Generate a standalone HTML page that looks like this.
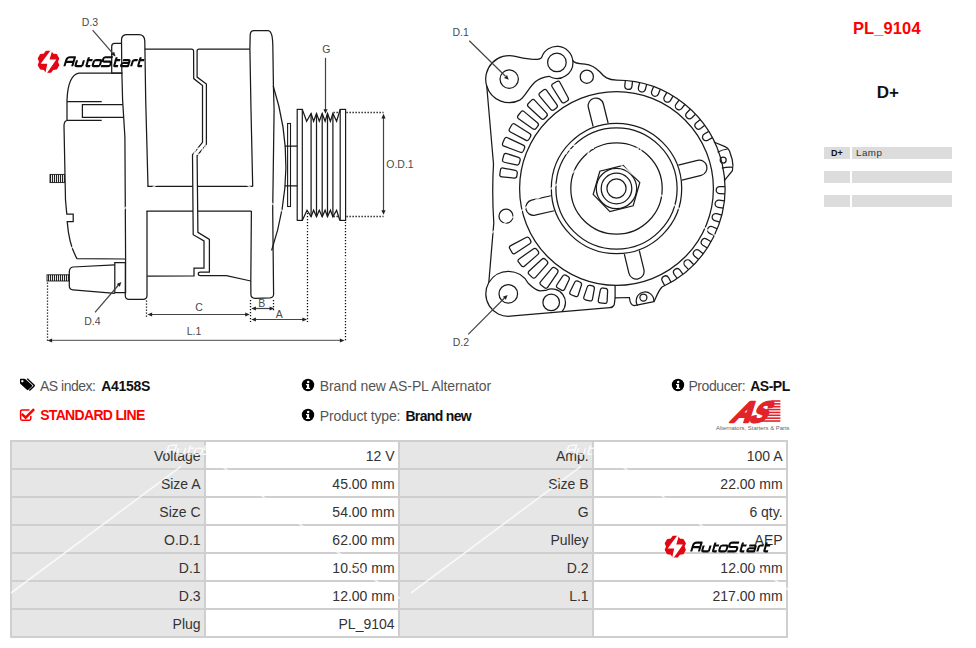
<!DOCTYPE html>
<html><head><meta charset="utf-8">
<style>
html,body{margin:0;padding:0;background:#fff;width:976px;height:648px;overflow:hidden;position:relative;font-family:"Liberation Sans",sans-serif;}
.tbl{position:absolute;left:10px;top:440px;width:778px;height:198px;background:#cfcfcf;}
.cell{position:absolute;width:188.6px;height:26px;padding-right:3.4px;text-align:right;font-size:14px;line-height:28px;color:#333;white-space:nowrap;overflow:hidden}
.info{position:absolute;font-size:14px;color:#555;white-space:nowrap;line-height:16px}
.info b{color:#111}
svg{position:absolute;left:0;top:0}
.rp{position:absolute;white-space:nowrap;line-height:20px}
.rcell{position:absolute;height:11.5px;background:#dcdcdc;text-align:center;line-height:12px;white-space:nowrap}
</style></head><body>
<svg width="976" height="648" viewBox="0 0 976 648">
<defs>
<pattern id="thr" patternUnits="userSpaceOnUse" width="2" height="10"><rect width="2" height="10" fill="#fff"/><rect width="1.1" height="10" fill="#222"/></pattern>
</defs>
<g fill="none" stroke="#1a1a1a" stroke-width="1.25">
<path d="M121.5,73 L111.7,73 L111.7,46.5 Q111.7,43.4 114.8,43.4 L121.5,43.4" />
<path d="M148,186.4 L145.7,100 L144.8,41 Q144.5,34.7 139,34.7 L127,34.7 Q121.5,34.7 121.5,40 L121.8,70 L122.6,100 L124.9,137 L125.6,260 L125.3,295.5 Q125.3,299.3 129,299.3 L143,299.3 Q147,299.3 147,295.5 L147,211.1" />
<path d="M122.6,73.2 L79,73.2 Q68,75 67,100.2 L67,120" />
<path d="M67,101.7 L101.7,101.7" />
<path d="M67,120.3 L101.7,120.3" />
<path d="M122.8,104.6 L82.4,104.6 L82.4,117.3 L123,117.3" />
<path d="M67,120.5 Q64,121 64,126 L65.5,200 L66.8,214 L73.2,214 L73.2,221.6 L67.2,221.6 Q69,245 77,258.6 L125.2,259" />
<rect x="50" y="174.4" width="14.4" height="8.2" fill="url(#thr)" stroke="#1a1a1a" stroke-width="0.9"/>
<path d="M114.8,264.8 L73,267 Q69.3,267.5 69.3,272 L69.3,286 Q69.3,289.5 73,289.8 L114.8,293.4" />
<path d="M114.8,262.5 L125.4,262.5 L125.6,292.6 L114.8,292.6 Z" />
<rect x="47" y="274.8" width="22.3" height="6.2" fill="url(#thr)" stroke="#1a1a1a" stroke-width="0.9"/>
<path d="M144.8,49 L191.5,49 Q193.5,49 193.6,51 L193.7,78.6 L202.5,85.6 L202.5,142.4 L192.5,154.7 L193.2,234.7 L204,240.9 L204,268.2 L194,268.2 L194,275.9 L147.2,276.2" />
<path d="M249.8,49 L199,49 Q197.1,49 197.1,51 L197.1,77.1 L206.4,84 L206.4,144.7 L197.1,155.5 L197.9,232.4 L209.4,239.4 L209.4,272.2 L200.3,272.2 Q198.3,272.2 198.3,274 Q198.3,275.6 200.5,275.6 L226.4,275.6 L250.8,281" />
<path d="M147.4,186.4 L192.8,186.4 M197.2,186.4 L252.7,186.4" />
<path d="M146.5,211.1 L193,211.1 M197.6,211.1 L251.4,211.1" />
<path d="M252.7,186.4 L251,110 L249.9,49 L250.2,34.5 Q250.6,30.6 254,30.6 L268,30.6 Q270.8,30.8 272,36 Q272.9,41 272.9,50 L273.4,85 L274.1,110 L272.7,210 L273.6,294.5 Q273.4,297.6 270,297.8 L255,298.3 Q251,298.2 250.9,294.5 L250.8,281 L251.4,211.1" />
<path d="M273.2,86 Q299.4,167 271.6,250.5" />
<rect x="287.6" y="123.5" width="2.9" height="83" fill="none" stroke="#1a1a1a" stroke-width="1.1"/>
<path d="M284.8,146.1 L297.2,146.1 M284.8,185.9 L297.2,185.9" />
<rect x="297.2" y="109.4" width="5.1" height="111" fill="none" stroke="#1a1a1a" stroke-width="1.2"/>
<rect x="340.2" y="109.4" width="5.4" height="111" fill="none" stroke="#1a1a1a" stroke-width="1.2"/>
<path d="M302.3,109.4 L306.6,121.3 L311.1,113.5 L313.6,121.3 L316.5,113.5 L319.3,121.3 L322.2,113.5 L325.1,121.3 L327.5,113.5 L330.4,121.3 L332.9,113.5 L336.6,121.3 L340.2,109.4" />
<path d="M302.3,220.4 L307,210.2 L311.1,216.7 L313.6,210.2 L316.5,216.7 L319.3,210.2 L322.2,216.7 L325.1,210.2 L327.5,216.7 L330.4,210.2 L332.9,216.7 L336.6,210.2 L339.8,220.4" />
<path d="M311.1,113.5 L311.1,216.7" />
<path d="M316.5,113.5 L316.5,216.7" />
<path d="M322.2,113.5 L322.2,216.7" />
<path d="M327.5,113.5 L327.5,216.7" />
<path d="M332.9,113.5 L332.9,216.7" />
<circle cx="616.5" cy="188.5" r="96.9"/>
<circle cx="616.5" cy="188.5" r="65.2"/>
<circle cx="616.5" cy="188.5" r="60.6"/>
<circle cx="616.5" cy="188.5" r="45.7"/>
<circle cx="616.5" cy="188.5" r="20.2"/>
<circle cx="616.5" cy="188.5" r="15.3"/>
<circle cx="616.5" cy="188.5" r="9.6"/>
<path d="M639.79,182.69 L633.17,205.76 L609.88,211.57 L593.21,194.31 L599.83,171.24 L623.12,165.43 Z" />
<path d="M608.1,122.99 L603.31,103.77 A7.7,7.7 0 0 0 588.37,107.5 L593.16,126.71" />
<path d="M682.01,180.1 L701.23,175.31 A7.7,7.7 0 0 0 697.5,160.37 L678.29,165.16" />
<path d="M624.33,254.08 L628.95,273.34 A7.7,7.7 0 0 0 643.92,269.74 L639.3,250.49" />
<path d="M550.85,195.75 L531.56,200.21 A7.7,7.7 0 0 0 535.02,215.21 L554.31,210.76" />
<path d="M632.55,81.13 L631.95,86.3 A3.6,3.6 0 0 1 624.8,85.47 L625.39,80.31" />
<path d="M646.7,84.22 L645.42,89.26 A3.6,3.6 0 0 1 638.44,87.49 L639.72,82.45" />
<path d="M660.31,89.17 L658.37,94 A3.6,3.6 0 0 1 651.69,91.31 L653.63,86.49" />
<path d="M673.14,95.89 L670.58,100.41 A3.6,3.6 0 0 1 664.31,96.86 L666.88,92.34" />
<path d="M684.97,104.25 L681.82,108.4 A3.6,3.6 0 0 1 676.09,104.04 L679.23,99.9" />
<path d="M695.57,114.12 L691.9,117.8 A3.6,3.6 0 0 1 686.8,112.73 L690.47,109.04" />
<path d="M704.77,125.31 L700.64,128.47 A3.6,3.6 0 0 1 696.26,122.76 L700.39,119.59" />
<path d="M712.4,137.62 L707.89,140.21 A3.6,3.6 0 0 1 704.3,133.96 L708.81,131.37" />
<path d="M724.93,193.8 L719.73,193.72 A3.6,3.6 0 0 1 719.84,186.52 L725.04,186.6" />
<path d="M723.28,208.1 L718.13,207.33 A3.6,3.6 0 0 1 719.2,200.21 L724.34,200.98" />
<path d="M719.75,222.05 L714.75,220.61 A3.6,3.6 0 0 1 716.75,213.69 L721.74,215.13" />
<path d="M714.4,235.41 L709.64,233.32 A3.6,3.6 0 0 1 712.53,226.72 L717.3,228.81" />
<path d="M707.34,247.94 L702.9,245.24 A3.6,3.6 0 0 1 706.64,239.09 L711.08,241.79" />
<path d="M698.68,259.44 L694.63,256.17 A3.6,3.6 0 0 1 699.15,250.57 L703.2,253.83" />
<path d="M688.58,269.68 L685,265.91 A3.6,3.6 0 0 1 690.22,260.95 L693.8,264.73" />
<path d="M677.21,278.5 L674.16,274.29 A3.6,3.6 0 0 1 679.99,270.07 L683.04,274.28" />
<path d="M664.77,285.74 L662.3,281.16 A3.6,3.6 0 0 1 668.64,277.75 L671.11,282.33" />
<path d="M516.88,175.91 Q516.55,178.29 514.16,178.07 L501.89,176.92 Q499.5,176.7 499.84,174.33 L500.45,169.97 Q500.78,167.59 503.14,168.04 L515.25,170.32 Q517.61,170.76 517.27,173.14 Z" />
<path d="M519.33,163.19 Q518.7,165.5 516.35,164.97 L504.34,162.26 Q502,161.73 502.63,159.42 L503.8,155.18 Q504.44,152.86 506.72,153.61 L518.43,157.43 Q520.71,158.17 520.08,160.49 Z" />
<path d="M523.4,150.88 Q522.47,153.1 520.23,152.25 L504.03,146.12 Q501.79,145.27 502.72,143.06 L504.42,139 Q505.35,136.79 507.53,137.8 L523.24,145.08 Q525.42,146.09 524.49,148.3 Z" />
<path d="M529.02,139.21 Q527.82,141.28 525.7,140.15 L510.43,131.99 Q508.31,130.86 509.52,128.78 L511.73,124.98 Q512.94,122.9 514.97,124.19 L529.61,133.43 Q531.64,134.71 530.43,136.79 Z" />
<path d="M536.1,128.35 Q534.64,130.25 532.68,128.86 L518.59,118.8 Q516.64,117.4 518.1,115.5 L520.79,112.01 Q522.25,110.11 524.1,111.64 L537.43,122.7 Q539.27,124.23 537.81,126.13 Z" />
<path d="M544.52,118.5 Q542.82,120.19 541.06,118.56 L528.38,106.77 Q526.63,105.13 528.32,103.44 L531.44,100.32 Q533.13,98.63 534.77,100.38 L546.56,113.06 Q548.19,114.82 546.5,116.52 Z" />
<path d="M554.13,109.81 Q552.23,111.27 550.7,109.43 L539.64,96.1 Q538.11,94.25 540.01,92.79 L543.5,90.1 Q545.4,88.64 546.8,90.59 L556.86,104.68 Q558.25,106.64 556.35,108.1 Z" />
<path d="M564.79,102.43 Q562.71,103.64 561.43,101.61 L552.19,86.97 Q550.9,84.94 552.98,83.73 L556.78,81.52 Q558.86,80.31 559.99,82.43 L568.15,97.7 Q569.28,99.82 567.21,101.02 Z" />
<path d="M605.36,288.29 Q607.74,288.58 607.62,290.98 L607.11,301.3 Q606.99,303.7 604.61,303.41 L600.24,302.87 Q597.86,302.58 598.32,300.22 L600.33,290.08 Q600.79,287.73 603.17,288.02 Z" />
<path d="M592.43,285.98 Q594.75,286.58 594.32,288.94 L592.47,299.11 Q592.03,301.47 589.71,300.87 L585.45,299.77 Q583.13,299.17 583.9,296.9 L587.21,287.1 Q587.97,284.83 590.3,285.43 Z" />
<path d="M579.91,282 Q582.13,282.9 581.4,285.19 L578.23,295.03 Q577.5,297.31 575.27,296.41 L571.19,294.77 Q568.97,293.87 570.03,291.71 L574.59,282.43 Q575.64,280.28 577.87,281.18 Z" />
<path d="M568.02,276.43 Q570.11,277.61 569.08,279.78 L564.66,289.12 Q563.63,291.29 561.54,290.11 L557.71,287.94 Q555.62,286.76 556.95,284.76 L562.68,276.16 Q564.01,274.16 566.1,275.34 Z" />
<path d="M556.96,269.35 Q558.87,270.79 557.53,272.78 L547.8,287.12 Q546.45,289.1 544.53,287.66 L541.02,285.01 Q539.1,283.56 540.64,281.72 L551.74,268.42 Q553.28,266.58 555.2,268.02 Z" />
<path d="M546.91,260.88 Q548.63,262.56 547.03,264.36 L535.51,277.3 Q533.92,279.1 532.21,277.42 L529.07,274.33 Q527.36,272.65 529.12,271.02 L541.87,259.28 Q543.63,257.66 545.34,259.34 Z" />
<path d="M538.06,251.18 Q539.54,253.07 537.72,254.64 L524.62,265.97 Q522.8,267.54 521.32,265.65 L518.61,262.18 Q517.14,260.29 519.1,258.91 L533.27,248.94 Q535.23,247.55 536.71,249.45 Z" />
<path d="M530.55,240.4 Q531.77,242.47 529.76,243.79 L515.29,253.32 Q513.29,254.64 512.07,252.57 L509.83,248.78 Q508.62,246.71 510.74,245.6 L526.09,237.55 Q528.22,236.44 529.43,238.51 Z" />
<path d="M486.73,85.97 A23.5,23.5 0 0 1 515.28,56.4 C523,58.6 540.2,61.6 541.86,56.93 A16.0,16.0 0 0 1 572.74,60.17 C573.5,63.2 578,63.6 585,64.2 C592,65 596,68 600,72 C604,77 608,80 616.5,80 A108.5,108.5 0 0 1 662.01,286.99 C658,291 656,298 654,301.6 L634.3,305.7 Q630,305 629.4,297.5 L615.1,297.9 L614.3,304.4 Q613,307.7 609.8,307.7 L510.18,316.22 A22.5,22.5 0 0 1 488.81,282.55 L493.8,223 Q491.8,193 493.5,164 Z" stroke-linejoin="round"/>
<path d="M713.9,142 L725,146.7 Q728,148 729.5,151 L732.2,159.5 Q733.6,166 732.4,170.7 L724.1,180.9" />
<path d="M717.6,152.2 Q722,149.6 727.6,149" />
<path d="M721.8,168.2 Q727,167 732.8,167.3" />
<path d="M615.1,285.3 L615.1,297.9" />
<path d="M637.6,305.5 A8.8,8.8 0 1 1 653.8,301.6" />
<circle cx="643.4" cy="297.5" r="3.5"/>
<circle cx="723.2" cy="160.1" r="3"/>
<path d="M486.73,85.97 A23.5,23.5 0 0 0 520.23,99.85 C526,95.5 528.5,88 535,82 C539.5,78 543,77 548.9,76.26 A16.0,16.0 0 0 0 572.74,60.17" />
<circle cx="509.2" cy="79.1" r="9.2"/>
<circle cx="556.9" cy="62.4" r="9.3"/>
<circle cx="586.8" cy="76.7" r="6.6"/>
<circle cx="506" cy="216.2" r="7"/>
<path d="M488.81,282.55 A22.5,22.5 0 0 1 528.17,283.24 C532,286.5 535.5,290.8 540.4,290.8 C543,290.8 544.5,290.5 546.29,290.26 A13.5,13.5 0 0 1 561.9,311.65" />
<circle cx="508.3" cy="293.8" r="9.3"/>
<circle cx="551.2" cy="302.4" r="8.3"/>
</g>
<g fill="none" stroke="#444" stroke-width="1.2">
<path d="M325.5,57.8 L325.5,110"/><path d="M383.5,117 L383.5,211.5"/><path d="M150,314.5 L247,314.5"/><path d="M254,308.5 L271.5,308.5"/><path d="M254,319.5 L304,319.5"/><path d="M50,340.3 L341,340.3" stroke="#707070" stroke-width="1.3"/><path d="M92.6,30.1 L113,53.6"/><path d="M95,312.4 L118.5,285"/><path d="M469.3,40.7 L505.5,76.3"/><path d="M468.2,334.3 L504.5,298"/>
</g>
<g fill="none" stroke="#111" stroke-width="1.3" stroke-dasharray="1.3 1.7">
<path d="M346.5,112.5 L383.5,112.5"/><path d="M346.5,216.5 L383.5,216.5"/><path d="M333.5,112.5 L339.5,112.5"/><path d="M333.5,216.5 L339.5,216.5"/><path d="M146.5,300.5 L146.5,317"/><path d="M250.5,300 L250.5,322"/><path d="M273.5,300 L273.5,311"/><path d="M307.5,213 L307.5,322"/><path d="M345.5,222 L345.5,342"/><path d="M47.5,282.5 L47.5,342"/>
</g>
<path d="M325.5,113.8 L323.4,109.2 L327.6,109.2 Z" fill="#222" stroke="none"/><path d="M383.5,113.8 L385.6,118.4 L381.4,118.4 Z" fill="#222" stroke="none"/><path d="M383.5,214.8 L381.4,210.2 L385.6,210.2 Z" fill="#222" stroke="none"/><path d="M147.5,314.5 L152.1,312.4 L152.1,316.6 Z" fill="#222" stroke="none"/><path d="M249.8,314.5 L245.2,316.6 L245.2,312.4 Z" fill="#222" stroke="none"/><path d="M251.3,308.5 L255.9,306.4 L255.9,310.6 Z" fill="#222" stroke="none"/><path d="M274.2,308.5 L269.6,310.6 L269.6,306.4 Z" fill="#222" stroke="none"/><path d="M251.3,319.5 L255.9,317.4 L255.9,321.6 Z" fill="#222" stroke="none"/><path d="M307,319.5 L302.4,321.6 L302.4,317.4 Z" fill="#222" stroke="none"/><path d="M47.5,340.5 L52.1,338.4 L52.1,342.6 Z" fill="#222" stroke="none"/><path d="M344.5,340.5 L339.9,342.6 L339.9,338.4 Z" fill="#222" stroke="none"/><path d="M115.6,56.6 L111,54.5 L114.17,51.75 Z" fill="#222" stroke="none"/><path d="M121.3,282 L119.84,286.84 L116.68,284.07 Z" fill="#222" stroke="none"/><path d="M508.8,79.7 L504.06,77.93 L507.03,74.96 Z" fill="#222" stroke="none"/><path d="M507.6,294.9 L505.83,299.64 L502.86,296.67 Z" fill="#222" stroke="none"/>
<g font-family="Liberation Sans" font-size="10.5" fill="#4a4a4a">
<text x="90" y="25.6" text-anchor="middle">D.3</text>
<text x="326.4" y="53.2" text-anchor="middle">G</text>
<text x="400" y="167.7" text-anchor="middle">O.D.1</text>
<text x="199" y="311.2" text-anchor="middle">C</text>
<text x="261.7" y="306.5" text-anchor="middle">B</text>
<text x="279.3" y="318" text-anchor="middle">A</text>
<text x="194" y="334.8" text-anchor="middle">L.1</text>
<text x="92.3" y="325" text-anchor="middle">D.4</text>
<text x="460.6" y="35.5" text-anchor="middle">D.1</text>
<text x="460.8" y="346.3" text-anchor="middle">D.2</text>
</g>
</svg>
<div class="tbl"></div>
<div class="cell" style="left:12px;top:442px;background:#e6e6e6">Voltage</div>
<div class="cell" style="left:206px;top:442px;background:#ffffff">12 V</div>
<div class="cell" style="left:400px;top:442px;background:#e6e6e6">Amp.</div>
<div class="cell" style="left:594px;top:442px;background:#ffffff">100 A</div>
<div class="cell" style="left:12px;top:470px;background:#e6e6e6">Size A</div>
<div class="cell" style="left:206px;top:470px;background:#ffffff">45.00 mm</div>
<div class="cell" style="left:400px;top:470px;background:#e6e6e6">Size B</div>
<div class="cell" style="left:594px;top:470px;background:#ffffff">22.00 mm</div>
<div class="cell" style="left:12px;top:498px;background:#e6e6e6">Size C</div>
<div class="cell" style="left:206px;top:498px;background:#ffffff">54.00 mm</div>
<div class="cell" style="left:400px;top:498px;background:#e6e6e6">G</div>
<div class="cell" style="left:594px;top:498px;background:#ffffff">6 qty.</div>
<div class="cell" style="left:12px;top:526px;background:#e6e6e6">O.D.1</div>
<div class="cell" style="left:206px;top:526px;background:#ffffff">62.00 mm</div>
<div class="cell" style="left:400px;top:526px;background:#e6e6e6">Pulley</div>
<div class="cell" style="left:594px;top:526px;background:#ffffff">AEP</div>
<div class="cell" style="left:12px;top:554px;background:#e6e6e6">D.1</div>
<div class="cell" style="left:206px;top:554px;background:#ffffff">10.50 mm</div>
<div class="cell" style="left:400px;top:554px;background:#e6e6e6">D.2</div>
<div class="cell" style="left:594px;top:554px;background:#ffffff">12.00 mm</div>
<div class="cell" style="left:12px;top:582px;background:#e6e6e6">D.3</div>
<div class="cell" style="left:206px;top:582px;background:#ffffff">12.00 mm</div>
<div class="cell" style="left:400px;top:582px;background:#e6e6e6">L.1</div>
<div class="cell" style="left:594px;top:582px;background:#ffffff">217.00 mm</div>
<div class="cell" style="left:12px;top:610px;background:#e6e6e6">Plug</div>
<div class="cell" style="left:206px;top:610px;background:#ffffff">PL_9104</div>
<div class="cell" style="left:400px;top:610px;background:#e6e6e6"></div>
<div class="cell" style="left:594px;top:610px;background:#ffffff"></div>

<svg width="20" height="16" style="left:19px;top:377px" viewBox="0 0 20 16"><g transform="translate(1,1.3) scale(0.9,0.85)"><path d="M0,1 L0,5.2 Q0,6 0.6,6.6 L7.6,13.6 Q8.4,14.4 9.2,13.6 L13.2,9.6 Q14,8.8 13.2,8 L6.2,1 Q5.6,0.4 4.8,0.4 L0.6,0.4 Q0,0.4 0,1 Z M2.6,2 A1.3,1.3 0 1 0 2.61,2 Z" fill="#000" fill-rule="evenodd"/><path d="M8,0.4 L15.4,7.8 Q16.2,8.6 15.4,9.4 L10.4,14.4" fill="none" stroke="#000" stroke-width="1.6"/></g></svg>
<div class="info" style="left:40px;top:377.6px;letter-spacing:-0.5px">AS index:</div>
<div class="info" style="left:101.3px;top:377.6px;font-weight:bold;color:#111;letter-spacing:-0.3px">A4158S</div>
<svg width="16" height="14" style="left:19px;top:408px" viewBox="0 0 16 14"><path d="M10.5,2 L3,2 Q1.6,2 1.6,3.4 L1.6,10.8 Q1.6,12.2 3,12.2 L10.4,12.2 Q11.8,12.2 11.8,10.8 L11.8,8" fill="none" stroke="#ff0000" stroke-width="1.5"/><path d="M3.8,6.8 L6.6,9.6 L14.2,2" fill="none" stroke="#ff0000" stroke-width="2.6" stroke-linecap="square"/></svg>
<div class="info" style="left:40.2px;top:407.4px;color:#ff0000;font-weight:bold;font-size:14px;letter-spacing:-0.68px">STANDARD LINE</div>
<svg width="14" height="14" style="left:301px;top:377.8px" viewBox="-7 -7 14 14"><circle r="6.2" fill="#000"/><circle cx="0.2" cy="-3.1" r="1.25" fill="#fff"/><path d="M-2,-1.1 L1.1,-1.1 L1.1,2.8 L2.1,2.8 L2.1,4.1 L-2,4.1 L-2,2.8 L-1,2.8 L-1,0.2 L-2,0.2 Z" fill="#fff"/></svg>
<div class="info" style="left:319.8px;top:377.6px;letter-spacing:-0.1px">Brand new AS-PL Alternator</div>
<svg width="14" height="14" style="left:301px;top:407.9px" viewBox="-7 -7 14 14"><circle r="6.2" fill="#000"/><circle cx="0.2" cy="-3.1" r="1.25" fill="#fff"/><path d="M-2,-1.1 L1.1,-1.1 L1.1,2.8 L2.1,2.8 L2.1,4.1 L-2,4.1 L-2,2.8 L-1,2.8 L-1,0.2 L-2,0.2 Z" fill="#fff"/></svg>
<div class="info" style="left:319.8px;top:407.5px;letter-spacing:-0.15px">Product type:</div>
<div class="info" style="left:405.4px;top:407.5px;font-weight:bold;color:#111;letter-spacing:-0.65px">Brand new</div>
<svg width="14" height="14" style="left:670.5px;top:377.8px" viewBox="-7 -7 14 14"><circle r="6.2" fill="#000"/><circle cx="0.2" cy="-3.1" r="1.25" fill="#fff"/><path d="M-2,-1.1 L1.1,-1.1 L1.1,2.8 L2.1,2.8 L2.1,4.1 L-2,4.1 L-2,2.8 L-1,2.8 L-1,0.2 L-2,0.2 Z" fill="#fff"/></svg>
<div class="info" style="left:688.4px;top:377.6px;letter-spacing:-0.42px">Producer:</div>
<div class="info" style="left:750.2px;top:377.6px;font-weight:bold;color:#111;letter-spacing:-0.5px">AS-PL</div>
<svg width="80" height="36" style="left:712px;top:396px" viewBox="0 0 80 36"><text x="0" y="0" transform="translate(17.6,25.6) skewX(-33) scale(0.95,1.02)" font-family="Liberation Sans" font-weight="bold" font-size="28.5" fill="#e2232a" stroke="#e2232a" stroke-width="2.3" stroke-linejoin="round">A</text><text x="0" y="0" transform="translate(35.8,25.6) skewX(-33) scale(0.86,1.02)" font-family="Liberation Sans" font-weight="bold" font-size="28.5" fill="#e2232a" stroke="#e2232a" stroke-width="2.3" stroke-linejoin="round">S</text><rect x="59.40" y="4.20" width="9.00" height="1.6" fill="#e2232a"/><rect x="57.83" y="7.06" width="10.57" height="1.6" fill="#e2232a"/><rect x="56.26" y="9.92" width="12.14" height="1.6" fill="#e2232a"/><rect x="54.69" y="12.78" width="13.71" height="1.6" fill="#e2232a"/><rect x="53.12" y="15.64" width="15.28" height="1.6" fill="#e2232a"/><rect x="51.55" y="18.50" width="16.85" height="1.6" fill="#e2232a"/><rect x="49.98" y="21.36" width="18.42" height="1.6" fill="#e2232a"/><rect x="48.41" y="24.22" width="19.99" height="1.6" fill="#e2232a"/><text x="4" y="33.5" font-family="Liberation Sans" font-size="6" fill="#666" textLength="73.5" lengthAdjust="spacingAndGlyphs">Alternators, Starters &amp; Parts</text></svg>
<div class="rp" style="left:853px;top:18px;font-size:16.5px;color:#ff0000;font-weight:bold;letter-spacing:0.1px">PL_9104</div>
<div class="rp" style="left:876.8px;top:82.5px;font-size:17px;color:#111;font-weight:bold">D+</div>
<div class="rcell" style="left:824px;top:147px;width:26px"><b style="font-size:9px;color:#111;position:relative;top:-2px">D+</b></div>
<div class="rcell" style="left:852px;top:147px;width:100px;padding-left:4px;box-sizing:border-box;text-align:left;font-size:9.8px;color:#333"><span style="position:relative;top:-0.5px;letter-spacing:0.45px">Lamp</span></div>
<div class="rcell" style="left:824px;top:171px;width:26px"></div>
<div class="rcell" style="left:852px;top:171px;width:100px"></div>
<div class="rcell" style="left:824px;top:195px;width:26px"></div>
<div class="rcell" style="left:852px;top:195px;width:100px"></div>

<svg width="976" height="648" viewBox="0 0 976 648" style="position:absolute;left:0;top:0"><g stroke="#fff" stroke-opacity="0.75" stroke-width="1.6" fill="none"><path d="M11,293 L181,166.4" /><path d="M221,165.5 L400,298.5" /><path d="M411,293 L581,166.4" /><path d="M621,165.5 L800,298.5" /><path d="M11,593 L181,466.4" /><path d="M221,465.5 L400,598.5" /><path d="M411,593 L581,466.4" /><path d="M621,465.5 L800,598.5" /></g><g fill="#fff" fill-opacity="0.8"><g transform="translate(166,154.2) scale(1.0) skewX(-17)" fill="none" stroke="#fff" stroke-opacity="0.8" stroke-width="1.6" stroke-linejoin="round" stroke-linecap="butt"><path transform="translate(0.0,0)" d="M0,0 V-6.2 Q0,-8.9 2.7,-8.9 H7.8 V0 M0,-4.3 H7.8"/> <path transform="translate(10.8,0)" d="M0,-6 V-1.7 Q0,0 1.7,0 H6.9 M6.9,-6 V0"/> <path transform="translate(20.6,0)" d="M1.2,-8.9 V-1.5 Q1.2,0 2.7,0 H5.2 M0,-6 H5.6"/> <path transform="translate(28.0,0)" d="M1.6,-6 H5.6 Q7.2,-6 7.2,-4.4 V-1.6 Q7.2,0 5.6,0 H1.6 Q0,0 0,-1.6 V-4.4 Q0,-6 1.6,-6 Z"/> <path transform="translate(36.6,0)" d="M9,-8.9 H1.9 Q0,-8.9 0,-7 V-6.5 Q0,-4.5 1.9,-4.5 H7.1 Q9,-4.5 9,-2.6 V-1.9 Q9,0 7.1,0 H0"/> <path transform="translate(48.4,0)" d="M1.2,-8.9 V-1.5 Q1.2,0 2.7,0 H5.2 M0,-6 H5.6"/> <path transform="translate(56.4,0)" d="M0.4,-6 H5.6 Q7.2,-6 7.2,-4.4 V0 H1.5 Q0,0 0,-1.5 V-1.5 Q0,-3.2 1.5,-3.2 H7.2"/> <path transform="translate(66.8,0)" d="M0,0 V-4.2 Q0,-6 1.8,-6 H4.6"/> <path transform="translate(72.4,0)" d="M1.2,-8.9 V-1.5 Q1.2,0 2.7,0 H5.2 M0,-6 H5.6"/></g><g transform="translate(166,454.2) scale(1.0) skewX(-17)" fill="none" stroke="#fff" stroke-opacity="0.8" stroke-width="1.6" stroke-linejoin="round" stroke-linecap="butt"><path transform="translate(0.0,0)" d="M0,0 V-6.2 Q0,-8.9 2.7,-8.9 H7.8 V0 M0,-4.3 H7.8"/> <path transform="translate(10.8,0)" d="M0,-6 V-1.7 Q0,0 1.7,0 H6.9 M6.9,-6 V0"/> <path transform="translate(20.6,0)" d="M1.2,-8.9 V-1.5 Q1.2,0 2.7,0 H5.2 M0,-6 H5.6"/> <path transform="translate(28.0,0)" d="M1.6,-6 H5.6 Q7.2,-6 7.2,-4.4 V-1.6 Q7.2,0 5.6,0 H1.6 Q0,0 0,-1.6 V-4.4 Q0,-6 1.6,-6 Z"/> <path transform="translate(36.6,0)" d="M9,-8.9 H1.9 Q0,-8.9 0,-7 V-6.5 Q0,-4.5 1.9,-4.5 H7.1 Q9,-4.5 9,-2.6 V-1.9 Q9,0 7.1,0 H0"/> <path transform="translate(48.4,0)" d="M1.2,-8.9 V-1.5 Q1.2,0 2.7,0 H5.2 M0,-6 H5.6"/> <path transform="translate(56.4,0)" d="M0.4,-6 H5.6 Q7.2,-6 7.2,-4.4 V0 H1.5 Q0,0 0,-1.5 V-1.5 Q0,-3.2 1.5,-3.2 H7.2"/> <path transform="translate(66.8,0)" d="M0,0 V-4.2 Q0,-6 1.8,-6 H4.6"/> <path transform="translate(72.4,0)" d="M1.2,-8.9 V-1.5 Q1.2,0 2.7,0 H5.2 M0,-6 H5.6"/></g><g transform="translate(566,154.2) scale(1.0) skewX(-17)" fill="none" stroke="#fff" stroke-opacity="0.8" stroke-width="1.6" stroke-linejoin="round" stroke-linecap="butt"><path transform="translate(0.0,0)" d="M0,0 V-6.2 Q0,-8.9 2.7,-8.9 H7.8 V0 M0,-4.3 H7.8"/> <path transform="translate(10.8,0)" d="M0,-6 V-1.7 Q0,0 1.7,0 H6.9 M6.9,-6 V0"/> <path transform="translate(20.6,0)" d="M1.2,-8.9 V-1.5 Q1.2,0 2.7,0 H5.2 M0,-6 H5.6"/> <path transform="translate(28.0,0)" d="M1.6,-6 H5.6 Q7.2,-6 7.2,-4.4 V-1.6 Q7.2,0 5.6,0 H1.6 Q0,0 0,-1.6 V-4.4 Q0,-6 1.6,-6 Z"/> <path transform="translate(36.6,0)" d="M9,-8.9 H1.9 Q0,-8.9 0,-7 V-6.5 Q0,-4.5 1.9,-4.5 H7.1 Q9,-4.5 9,-2.6 V-1.9 Q9,0 7.1,0 H0"/> <path transform="translate(48.4,0)" d="M1.2,-8.9 V-1.5 Q1.2,0 2.7,0 H5.2 M0,-6 H5.6"/> <path transform="translate(56.4,0)" d="M0.4,-6 H5.6 Q7.2,-6 7.2,-4.4 V0 H1.5 Q0,0 0,-1.5 V-1.5 Q0,-3.2 1.5,-3.2 H7.2"/> <path transform="translate(66.8,0)" d="M0,0 V-4.2 Q0,-6 1.8,-6 H4.6"/> <path transform="translate(72.4,0)" d="M1.2,-8.9 V-1.5 Q1.2,0 2.7,0 H5.2 M0,-6 H5.6"/></g><g transform="translate(566,454.2) scale(1.0) skewX(-17)" fill="none" stroke="#fff" stroke-opacity="0.8" stroke-width="1.6" stroke-linejoin="round" stroke-linecap="butt"><path transform="translate(0.0,0)" d="M0,0 V-6.2 Q0,-8.9 2.7,-8.9 H7.8 V0 M0,-4.3 H7.8"/> <path transform="translate(10.8,0)" d="M0,-6 V-1.7 Q0,0 1.7,0 H6.9 M6.9,-6 V0"/> <path transform="translate(20.6,0)" d="M1.2,-8.9 V-1.5 Q1.2,0 2.7,0 H5.2 M0,-6 H5.6"/> <path transform="translate(28.0,0)" d="M1.6,-6 H5.6 Q7.2,-6 7.2,-4.4 V-1.6 Q7.2,0 5.6,0 H1.6 Q0,0 0,-1.6 V-4.4 Q0,-6 1.6,-6 Z"/> <path transform="translate(36.6,0)" d="M9,-8.9 H1.9 Q0,-8.9 0,-7 V-6.5 Q0,-4.5 1.9,-4.5 H7.1 Q9,-4.5 9,-2.6 V-1.9 Q9,0 7.1,0 H0"/> <path transform="translate(48.4,0)" d="M1.2,-8.9 V-1.5 Q1.2,0 2.7,0 H5.2 M0,-6 H5.6"/> <path transform="translate(56.4,0)" d="M0.4,-6 H5.6 Q7.2,-6 7.2,-4.4 V0 H1.5 Q0,0 0,-1.5 V-1.5 Q0,-3.2 1.5,-3.2 H7.2"/> <path transform="translate(66.8,0)" d="M0,0 V-4.2 Q0,-6 1.8,-6 H4.6"/> <path transform="translate(72.4,0)" d="M1.2,-8.9 V-1.5 Q1.2,0 2.7,0 H5.2 M0,-6 H5.6"/></g></g></svg>
<svg width="976" height="648" viewBox="0 0 976 648" style="pointer-events:none"><g transform="translate(48.5,61.8) scale(1.0)"><path d="M-2.20,-10.37 L2.20,-10.37 L4.35,-7.53 L7.88,-7.09 L10.08,-3.28 L8.70,0.00 L10.08,3.28 L7.88,7.09 L4.35,7.53 L2.20,10.37 L-2.20,10.37 L-4.35,7.53 L-7.88,7.09 L-10.08,3.28 L-8.70,0.00 L-10.08,-3.28 L-7.88,-7.09 L-4.35,-7.53 Z" fill="#e30613" stroke="#e30613" stroke-width="1.4" stroke-linejoin="round"/><path d="M2.2,-11.5 L-7.8,2.0 L-1.2,2.0 L-3.2,11.5 L-1.6,11.5 L7.8,-2.2 L1.0,-2.2 L3.8,-11.5 Z" fill="#fff"/></g><g transform="translate(64.4,66.15) scale(1.0) skewX(-17)" fill="none" stroke="#0a0a0a" stroke-opacity="1.0" stroke-width="2.1" stroke-linejoin="round" stroke-linecap="butt"><path transform="translate(0.0,0)" d="M0,0 V-6.2 Q0,-8.9 2.7,-8.9 H7.8 V0 M0,-4.3 H7.8"/> <path transform="translate(10.8,0)" d="M0,-6 V-1.7 Q0,0 1.7,0 H6.9 M6.9,-6 V0"/> <path transform="translate(20.6,0)" d="M1.2,-8.9 V-1.5 Q1.2,0 2.7,0 H5.2 M0,-6 H5.6"/> <path transform="translate(28.0,0)" d="M1.6,-6 H5.6 Q7.2,-6 7.2,-4.4 V-1.6 Q7.2,0 5.6,0 H1.6 Q0,0 0,-1.6 V-4.4 Q0,-6 1.6,-6 Z"/> <path transform="translate(36.6,0)" d="M9,-8.9 H1.9 Q0,-8.9 0,-7 V-6.5 Q0,-4.5 1.9,-4.5 H7.1 Q9,-4.5 9,-2.6 V-1.9 Q9,0 7.1,0 H0"/> <path transform="translate(48.4,0)" d="M1.2,-8.9 V-1.5 Q1.2,0 2.7,0 H5.2 M0,-6 H5.6"/> <path transform="translate(56.4,0)" d="M0.4,-6 H5.6 Q7.2,-6 7.2,-4.4 V0 H1.5 Q0,0 0,-1.5 V-1.5 Q0,-3.2 1.5,-3.2 H7.2"/> <path transform="translate(66.8,0)" d="M0,0 V-4.2 Q0,-6 1.8,-6 H4.6"/> <path transform="translate(72.4,0)" d="M1.2,-8.9 V-1.5 Q1.2,0 2.7,0 H5.2 M0,-6 H5.6"/></g><g transform="translate(675.3,546.6) scale(0.98)"><path d="M-2.20,-10.37 L2.20,-10.37 L4.35,-7.53 L7.88,-7.09 L10.08,-3.28 L8.70,0.00 L10.08,3.28 L7.88,7.09 L4.35,7.53 L2.20,10.37 L-2.20,10.37 L-4.35,7.53 L-7.88,7.09 L-10.08,3.28 L-8.70,0.00 L-10.08,-3.28 L-7.88,-7.09 L-4.35,-7.53 Z" fill="#e30613" stroke="#e30613" stroke-width="1.4" stroke-linejoin="round"/><path d="M2.2,-11.5 L-7.8,2.0 L-1.2,2.0 L-3.2,11.5 L-1.6,11.5 L7.8,-2.2 L1.0,-2.2 L3.8,-11.5 Z" fill="#fff"/></g><g transform="translate(691.2,551.4) scale(0.99) skewX(-17)" fill="none" stroke="#0a0a0a" stroke-opacity="1.0" stroke-width="2.1" stroke-linejoin="round" stroke-linecap="butt"><path transform="translate(0.0,0)" d="M0,0 V-6.2 Q0,-8.9 2.7,-8.9 H7.8 V0 M0,-4.3 H7.8"/> <path transform="translate(10.8,0)" d="M0,-6 V-1.7 Q0,0 1.7,0 H6.9 M6.9,-6 V0"/> <path transform="translate(20.6,0)" d="M1.2,-8.9 V-1.5 Q1.2,0 2.7,0 H5.2 M0,-6 H5.6"/> <path transform="translate(28.0,0)" d="M1.6,-6 H5.6 Q7.2,-6 7.2,-4.4 V-1.6 Q7.2,0 5.6,0 H1.6 Q0,0 0,-1.6 V-4.4 Q0,-6 1.6,-6 Z"/> <path transform="translate(36.6,0)" d="M9,-8.9 H1.9 Q0,-8.9 0,-7 V-6.5 Q0,-4.5 1.9,-4.5 H7.1 Q9,-4.5 9,-2.6 V-1.9 Q9,0 7.1,0 H0"/> <path transform="translate(48.4,0)" d="M1.2,-8.9 V-1.5 Q1.2,0 2.7,0 H5.2 M0,-6 H5.6"/> <path transform="translate(56.4,0)" d="M0.4,-6 H5.6 Q7.2,-6 7.2,-4.4 V0 H1.5 Q0,0 0,-1.5 V-1.5 Q0,-3.2 1.5,-3.2 H7.2"/> <path transform="translate(66.8,0)" d="M0,0 V-4.2 Q0,-6 1.8,-6 H4.6"/> <path transform="translate(72.4,0)" d="M1.2,-8.9 V-1.5 Q1.2,0 2.7,0 H5.2 M0,-6 H5.6"/></g></svg>
</body></html>
